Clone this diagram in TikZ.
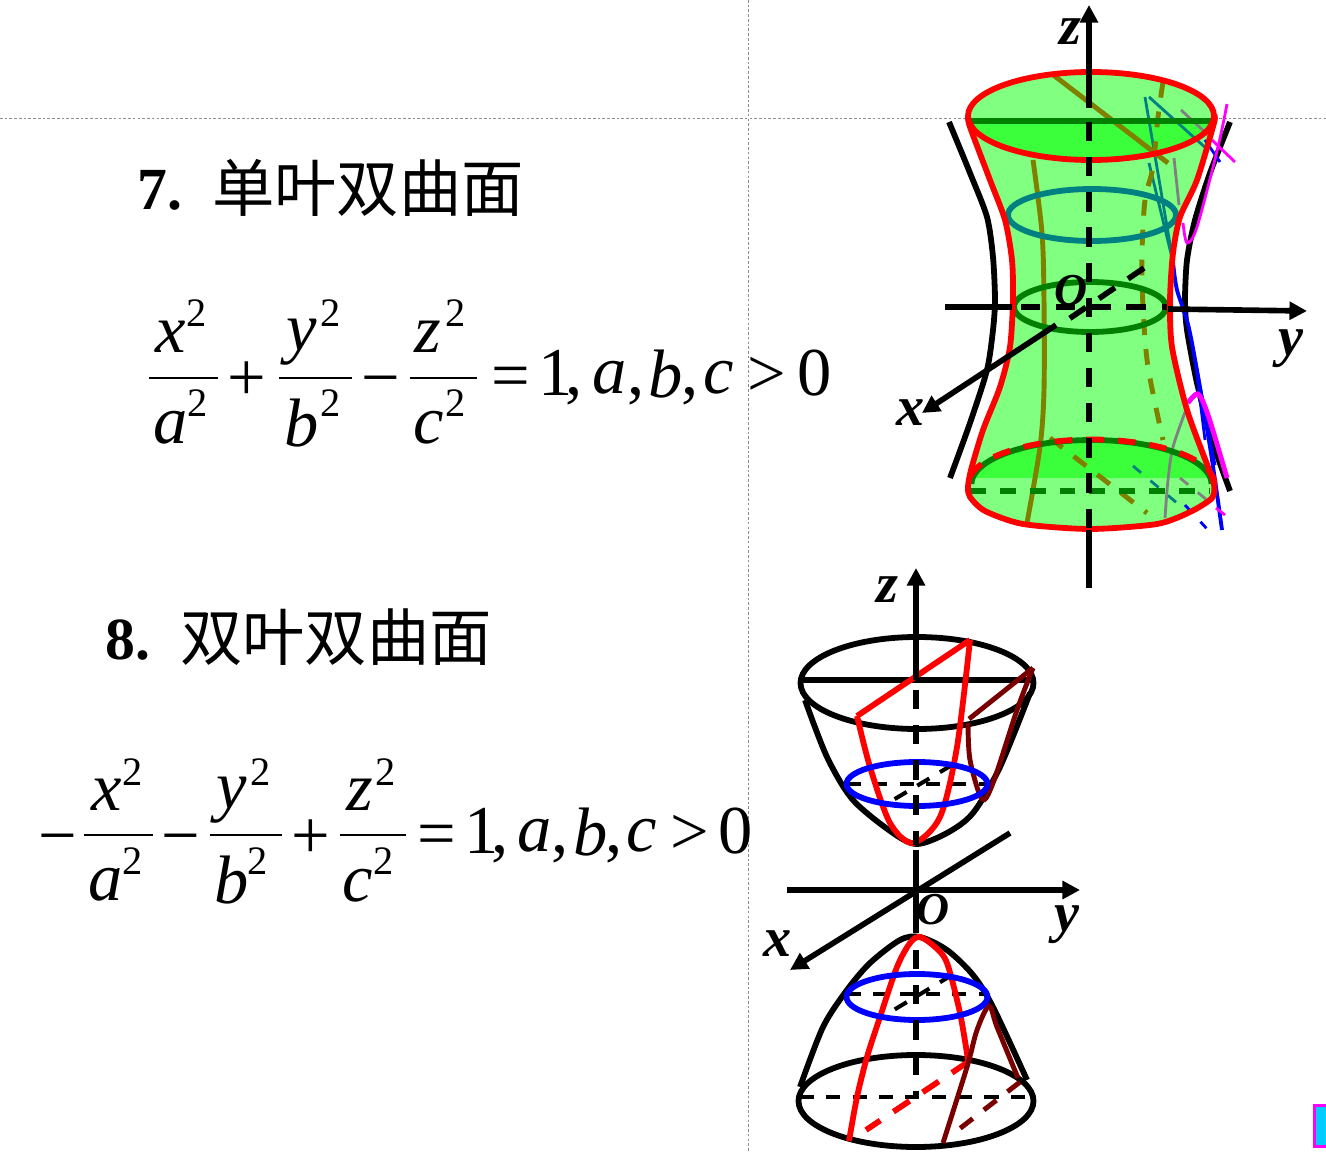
\documentclass[tikz,border=0pt]{standalone}
\usepackage{fontspec}
\setmainfont{Liberation Serif}
\newfontfamily\cjk{Noto Sans CJK SC}
\usetikzlibrary{arrows.meta}
\definecolor{bodygreen}{RGB}{128,255,128}
\definecolor{capgreen}{RGB}{60,255,60}
\definecolor{ringgreen}{RGB}{0,128,0}
\definecolor{ringteal}{RGB}{0,128,128}
\definecolor{olive}{RGB}{128,128,0}
\definecolor{darkred}{RGB}{120,0,0}
\definecolor{markcyan}{RGB}{0,204,255}
\definecolor{tracepink}{RGB}{255,0,255}
\tikzstyle{guide} = [draw=black!45, line width=0.4pt, dash pattern=on 1.5pt off 1.2pt]
\tikzstyle{arrow} = [-{Triangle[length=10pt,width=10pt]}]
\tikzstyle{axis} = [line width=3.2pt, black]
\tikzstyle{axisdash} = [axis, dash pattern=on 11pt off 9pt]
\tikzstyle{ring} = [line width=3.3pt]
\tikzstyle{fine} = [line width=1.6pt]
\tikzstyle{mid} = [line width=2.8pt]
\tikzstyle{thindash} = [line width=2.3pt, black, dash pattern=on 8pt off 7pt]
\tikzstyle{shortdash} = [dash pattern=on 9pt off 8pt]
\tikzstyle{mathit} = [inner sep=0pt, font=\fontsize{39}{39}\selectfont\itshape]
\tikzstyle{mathup} = [inner sep=0pt, font=\fontsize{39}{39}\selectfont]
\tikzstyle{power} = [inner sep=0pt, font=\fontsize{23}{23}\selectfont]
\tikzstyle{title} = [inner sep=0pt, font=\fontsize{34}{34}\selectfont\bfseries]
\tikzstyle{titlecjk} = [inner sep=0pt, font=\fontsize{35.5}{36}\selectfont\cjk]
\tikzstyle{axlabel} = [inner sep=0pt, font=\fontsize{32}{32}\selectfont\bfseries\itshape]
\tikzstyle{originlabel} = [inner sep=0pt, font=\fontsize{26}{26}\selectfont\bfseries\itshape]
\begin{document}
\begin{tikzpicture}[x=0.02cm,y=-0.02cm]
    \useasboundingbox (0,0) rectangle (1326,1152);

    \draw[guide] (748,0) -- (748,1152);
    \draw[guide] (0,118) -- (1326,118);

    % titles
    \node (num7) [title] at (160,190) {7.};
    \node (name7) [titlecjk] at (368,188) {单叶双曲面};
    \node (num8) [title] at (128,640) {8.};
    \node (name8) [titlecjk] at (336,637) {双叶双曲面};

    % equation 7
    \node (ax) [mathit] at (171,337) {x};
    \node (axp) [power] at (197,313) {2};
    \draw[line width=1.3pt] (149,378) -- (218,378);
    \node (aa) [mathit] at (171,428) {a};
    \node (aap) [power] at (198,403) {2};
    \node (aplus) [mathup] at (247,381) {+};
    \node (ay) [mathit] at (302,342) {y};
    \node (ayp) [power] at (331,313) {2};
    \draw[line width=1.3pt] (279,378) -- (352,378);
    \node (ab) [mathit] at (302,423) {b};
    \node (abp) [power] at (331,403) {2};
    \node (aminus) [mathup] at (381,388) {−};
    \node (az) [mathit] at (428,337) {z};
    \node (azp) [power] at (456,313) {2};
    \draw[line width=1.3pt] (410,378) -- (477,378);
    \node (ac) [mathit] at (429,428) {c};
    \node (acp) [power] at (456,403) {2};
    \node (aeq) [mathup] at (511,383) {=};
    \node (aone) [mathup] at (556,373) {1};
    \node (acm0) [mathup] at (574,396) {,};
    \node (aa2) [mathit] at (610,378) {a};
    \node (acm1) [mathup] at (636,396) {,};
    \node (ab2) [mathit] at (666,374) {b};
    \node (acm2) [mathup] at (690,396) {,};
    \node (ac2) [mathit] at (719,378) {c};
    \node (agt) [mathup] at (767,377) {>};
    \node (azero) [mathup] at (815,373) {0};

    % equation 8
    \node (bminus) [mathup] at (58,846) {−};
    \node (bx) [mathit] at (107,795) {x};
    \node (bxp) [power] at (133,772) {2};
    \draw[line width=1.3pt] (84,835) -- (153,835);
    \node (ba) [mathit] at (106,885) {a};
    \node (bap) [power] at (133,861) {2};
    \node (bminus2) [mathup] at (181,846) {−};
    \node (by) [mathit] at (232,800) {y};
    \node (byp) [power] at (261,772) {2};
    \draw[line width=1.3pt] (210,835) -- (282,835);
    \node (bb) [mathit] at (232,880) {b};
    \node (bbp) [power] at (258,861) {2};
    \node (bplus) [mathup] at (311,839) {+};
    \node (bz) [mathit] at (360,795) {z};
    \node (bzp) [power] at (386,772) {2};
    \draw[line width=1.3pt] (340,835) -- (406,835);
    \node (bc) [mathit] at (358,886) {c};
    \node (bcp) [power] at (384,861) {2};
    \node (beq) [mathup] at (437,841) {=};
    \node (bone) [mathup] at (482,831) {1};
    \node (bcm0) [mathup] at (500,854) {,};
    \node (ba2) [mathit] at (535,836) {a};
    \node (bcm1) [mathup] at (560,854) {,};
    \node (bb2) [mathit] at (591,832) {b};
    \node (bcm2) [mathup] at (614,854) {,};
    \node (bc2) [mathit] at (642,836) {c};
    \node (bgt) [mathup] at (690,835) {>};
    \node (bzero) [mathup] at (736,831) {0};

    % one sheet: surface
    \fill[bodygreen] plot[smooth,tension=0.45] coordinates {(968,116) (970,127) (990,180) (1005,220) (1012,260) (1013,300) (1010,347) (1000,387) (983,430) (971,470) (968,487) (970,497) (985,511) (1023,524) (1090,529) (1157,524) (1190,512) (1212,498) (1214,484) (1208,467) (1187,410) (1172,347) (1170,300) (1173,253) (1180,217) (1197,180) (1214,123) (1214,116)} -- cycle;
    \fill[bodygreen] (1091,116) ellipse [x radius=123, y radius=44];
    \begin{scope}
        \clip (950,121) rectangle (1230,170);
        \fill[capgreen] (1091,116) ellipse [x radius=122, y radius=44];
    \end{scope}
    \begin{scope}
        \clip (950,430) rectangle (1230,477);
        \fill[capgreen] (1091,484) ellipse [x radius=122, y radius=45];
    \end{scope}

    % outer black curves
    \draw[ring,black] plot[smooth,tension=0.45] coordinates {(949,122) (970,173) (987,217) (993,257) (995,300) (993,330) (987,370) (970,423) (950,478)};
    \draw[ring,black] plot[smooth,tension=0.45] coordinates {(1230,122) (1210,173) (1195,220) (1187,260) (1185,300) (1187,330) (1197,383) (1212,440) (1230,491)};

    % thin traces on the right
    \draw[line width=2.2pt,blue] plot[smooth] coordinates {(1173,262) (1177,290) (1190,333) (1210,447) (1222,530)};
    \draw[fine,blue] (1190,333) -- (1215,465);
    \draw[fine,blue] (1195,360) -- (1205,440);
    \draw[fine,blue,dash pattern=on 5pt off 8pt] (1185,505) -- (1208,530);
    \draw[fine,blue] (1205,140) -- (1220,162);
    \draw[fine,ringteal] (1145,97) -- (1173,262);
    \draw[fine,ringteal] (1149,163) -- (1173,262);
    \draw[fine,ringteal] (1149,97) -- (1208,150);
    \draw[fine,ringteal,dash pattern=on 6pt off 7pt] (1133,466) -- (1177,503);
    \draw[fine,black!50] (1181,110) -- (1208,135);
    \draw[fine,black!50] (1174,158) -- (1179,205);
    \draw[fine,black!50] plot[smooth] coordinates {(1187,407) (1173,447) (1168,480) (1165,518)};
    \draw[fine,black!50,dash pattern=on 6pt off 7pt] (1180,478) -- (1207,500);
    \draw[fine,tracepink] (1212,140) -- (1235,162);
    \draw[fine,tracepink] plot[smooth] coordinates {(1227,104) (1218,147) (1197,227) (1187,243) (1183,223)};
    \draw[mid,tracepink] plot[smooth] coordinates {(1188,403) (1198,394) (1208,415) (1227,478)};
    \draw[fine,tracepink] (1216,508) -- (1225,515);

    % olive rulings
    \draw[mid,olive] plot[smooth] coordinates {(1033,160) (1042,233) (1044,300) (1044,390) (1040,447) (1027,523)};
    \draw[mid,olive,shortdash] plot[smooth] coordinates {(1163,82) (1158,117) (1153,167) (1145,200) (1142,253) (1143,307) (1148,367) (1163,440)};
    \draw[mid,olive] (1052,74) -- (1168,163);
    \draw[mid,olive,shortdash] (1050,438) -- (1147,513);

    % rings
    \draw[ring,ringteal] (1092,215) ellipse [x radius=84, y radius=26];
    \draw[ring,ringgreen] (1090,307) ellipse [x radius=76, y radius=25];
    \draw[ring,ringgreen] (970,121) -- (1212,121);
    \draw[ring,ringgreen,shortdash] (970,491) -- (1210,491);
    \draw[ring,ringgreen] plot[domain=0:180,samples=50] ({1091.5+120*cos(\x)},{484-44*sin(\x)});

    % outline
    \draw[ring,red] plot[smooth,tension=0.45] coordinates {(968,116) (970,127) (990,180) (1005,220) (1012,260) (1013,300) (1010,347) (1000,387) (983,430) (971,470) (968,487) (970,497) (985,511) (1023,524) (1090,529) (1157,524) (1190,512) (1212,498) (1214,484) (1208,467) (1187,410) (1172,347) (1170,300) (1173,253) (1180,217) (1197,180) (1214,123) (1214,116)};
    \draw[ring,red] (1091,116) ellipse [x radius=123, y radius=44];
    \draw[ring,red,dash pattern=on 10pt off 8pt] plot[domain=0:180,samples=50] ({1091.5+123*cos(\x)},{484-44.5*sin(\x)});

    % one sheet: axes
    \draw[axis,arrow] (1089,108) -- (1089,5);
    \draw[axisdash] (1089,122) -- (1089,530);
    \draw[axis] (1089,530) -- (1089,588);
    \draw[axis] (945,307) -- (1012,307);
    \draw[axisdash] (1021,307) -- (1167,307);
    \draw[axis,arrow] (1168,309) -- (1307,311);
    \draw[axisdash] (1144,268) -- (1057,327);
    \draw[axis,arrow] (1056,325) -- (922,413);
    \node (z1) [axlabel] at (1070,32) {z};
    \node (o1) [originlabel] at (1071,291) {O};
    \node (y1) [axlabel] at (1291,349) {y};
    \node (x1) [axlabel] at (911,413) {x};

    % two sheets: upper
    \draw[ring,black] (917,683) ellipse [x radius=116.5, y radius=46];
    \draw[ring,black] (800,680) -- (1035,680);
    \draw[ring,black] plot[smooth] coordinates {(805,700) (827,757) (853,800) (893,833) (917,844) (947,833) (973,813) (1000,767) (1030,693)};
    \draw[thindash] (847,784) -- (985,784);
    \draw[thindash] (952,765) -- (883,806);
    \draw[ring,red] (857,716) -- (970,640) plot[smooth] coordinates {(970,640) (957,747) (940,817) (913,843) (890,823) (870,767) (857,716)};
    \draw[mid,darkred] (1033,668) -- (969,719);
    \draw[mid,darkred] plot[smooth] coordinates {(968,723) (970,760) (982,799) (993,783) (1017,710) (1033,668)};
    \draw[ring,blue] (917,784) ellipse [x radius=70.5, y radius=22];

    % two sheets: lower
    \draw[ring,black] (916,1101) ellipse [x radius=117.5, y radius=46];
    \draw[ring,black] plot[smooth] coordinates {(800,1087) (823,1027) (847,990) (870,963) (900,940) (920,937) (947,950) (973,975) (993,1007) (1027,1080)};
    \draw[thindash] (800,1097) -- (1030,1097);
    \draw[thindash] (847,994) -- (985,994);
    \draw[thindash] (952,975) -- (882,1017);
    \draw[ring,red] plot[smooth] coordinates {(849,1141) (857,1097) (867,1057) (880,1017) (897,967) (910,943) (920,937) (935,947) (947,963) (960,1013) (968,1060)};
    \draw[ring,red,dash pattern=on 11pt off 9pt] (968,1062) -- (866,1130);
    \draw[mid,darkred] plot[smooth] coordinates {(943,1143) (967,1067) (977,1030) (989,1006) (997,1027) (1018,1078)};
    \draw[mid,darkred,shortdash] (1020,1082) -- (958,1130);
    \draw[ring,blue] (917,997) ellipse [x radius=70.5, y radius=23];

    % two sheets: axes
    \draw[axis,arrow] (916,680) -- (916,568);
    \draw[axisdash] (916,690) -- (916,845);
    \draw[axis] (916,850) -- (916,933);
    \draw[axisdash] (916,950) -- (916,1097);
    \draw[axis,arrow] (787,890) -- (1080,890);
    \draw[axis,arrow] (1010,833) -- (790,970);
    \node (z2) [axlabel] at (887,590) {z};
    \node (o2) [originlabel] at (933,910) {O};
    \node (y2) [axlabel] at (1067,925) {y};
    \node (x2) [axlabel] at (778,944) {x};

    \node (marker) [draw=tracepink, fill=markcyan, line width=1.6pt, inner sep=0pt, minimum width=0.4cm, minimum height=0.82cm, anchor=north west] at (1313,1104) {};
\end{tikzpicture}
\end{document}
